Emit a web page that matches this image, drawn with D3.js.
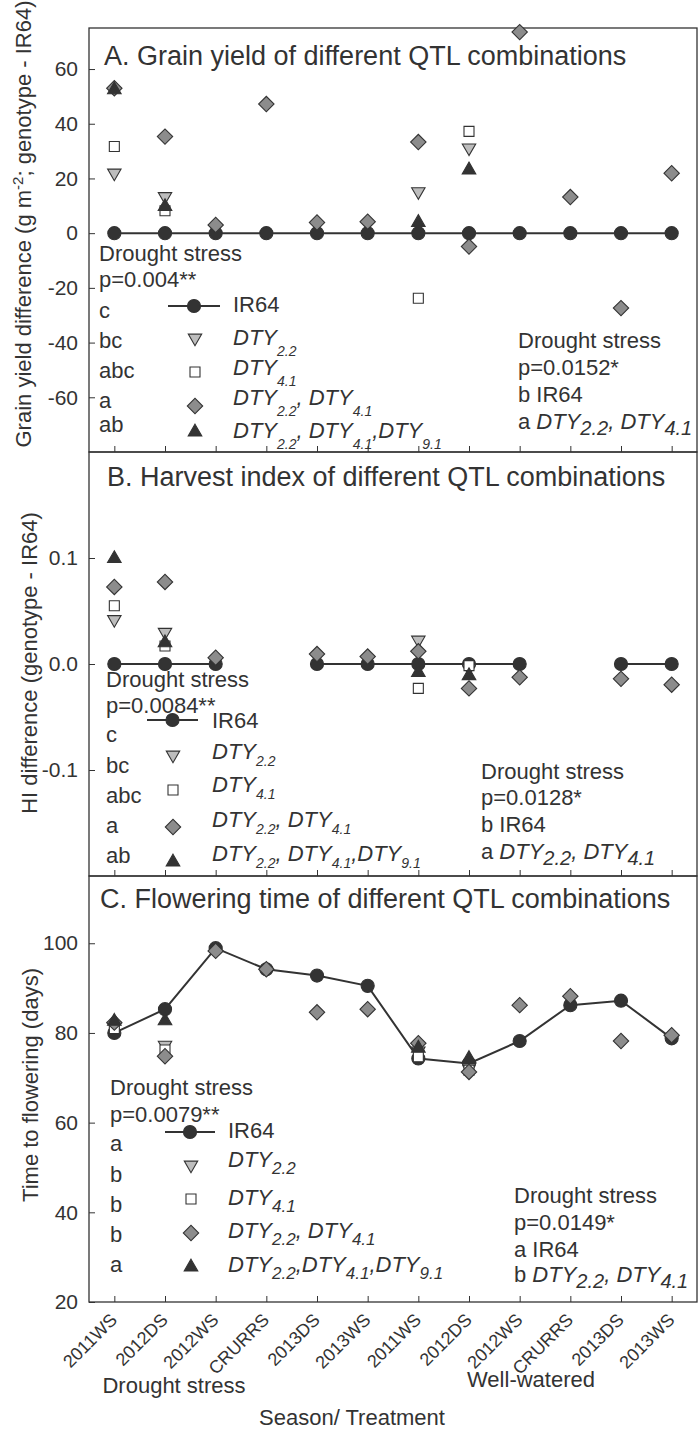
<!DOCTYPE html>
<html>
<head>
<meta charset="utf-8">
<script src="https://cdn.jsdelivr.net/npm/d3@7"></script>
<style>
body { margin: 0; background: #fff; }
svg text { font-family: "Liberation Sans", Arial, sans-serif; fill: #333; }
</style>
</head>
<body>
<svg id="chart" width="700" height="1431"></svg>
<script>
// seasons (first six drought stress, last six well-watered)
var seasons = ["2011WS", "2012DS", "2012WS", "CRURRS", "2013DS", "2013WS",
               "2011WS", "2012DS", "2012WS", "CRURRS", "2013DS", "2013WS"];

// A. grain yield difference (g m-2)
var gyIR64      = [0, 0, 0, 0, 0, 0, 0, 0, 0, 0, 0, 0];
var gyDTY22     = [22, 13.4, null, null, null, null, 15.2, 31.2, null, null, null, null];
var gyDTY41     = [31.7, 8.2, null, null, null, null, -23.8, 37.2, null, null, null, null];
var gyDTY22_41  = [53, 35.3, 3, 47.2, 3.9, 4.2, 33.3, -4.9, 73.5, 13.2, -27.4, 21.9];
var gyDTY22_41_91 = [52.4, 9.7, null, null, null, null, 3.9, 23.1, null, null, null, null];
var gyTicks = [-60, -40, -20, 0, 20, 40, 60];

// B. harvest index difference
var hiIR64      = [0, 0, 0, null, 0, 0, 0, 0, 0, null, 0, 0];
var hiDTY22     = [0.042, 0.030, null, null, null, null, 0.0226, -0.004, null, null, null, null];
var hiDTY41     = [0.055, 0.017, null, null, null, null, -0.023, -0.0015, null, null, null, null];
var hiDTY22_41  = [0.0727, 0.0774, 0.006, null, 0.0094, 0.007, 0.012, -0.023, -0.0126, null, -0.014, -0.0195];
var hiDTY22_41_91 = [0.0994, 0.020, null, null, null, null, -0.008, -0.011, null, null, null, null];
var hiTicks = [-0.1, 0, 0.1];

// C. time to flowering (days)
var ftIR64      = [80, 85.3, 98.9, 94.2, 92.8, 90.5, 74.3, 73.2, 78.2, 86.2, 87.2, 78.8];
var ftDTY22     = [81.5, 77.3, null, null, null, null, 76, 72.3, null, null, null, null];
var ftDTY41     = [81, 76.2, null, null, null, null, 74.7, 71.7, null, null, null, null];
var ftDTY22_41  = [82.3, 74.8, 98.3, 94.2, 84.6, 85.3, 77.7, 71.3, 86.2, 88.2, 78.2, 79.5];
var ftDTY22_41_91 = [82.6, 82.7, null, null, null, null, 76.6, 74.3, null, null, null, null];
var ftTicks = [20, 40, 60, 80, 100];

// text bits: [text, style] with n = normal, i = italic, s = italic subscript
var legendA = [
  [["IR64", "n"]],
  [["DTY", "i"], ["2.2", "s"]],
  [["DTY", "i"], ["4.1", "s"]],
  [["DTY", "i"], ["2.2", "s"], [", DTY", "i"], ["4.1", "s"]],
  [["DTY", "i"], ["2.2", "s"], [", DTY", "i"], ["4.1", "s"], [",DTY", "i"], ["9.1", "s"]]
];
var legendC = [
  [["IR64", "n"]],
  [["DTY", "i"], ["2.2", "s"]],
  [["DTY", "i"], ["4.1", "s"]],
  [["DTY", "i"], ["2.2", "s"], [", DTY", "i"], ["4.1", "s"]],
  [["DTY", "i"], ["2.2", "s"], [",DTY", "i"], ["4.1", "s"], [",DTY", "i"], ["9.1", "s"]]
];
var lettersA = ["c", "bc", "abc", "a", "ab"];
var lettersB = ["c", "bc", "abc", "a", "ab"];
var lettersC = ["a", "b", "b", "b", "a"];
var pA = "p=0.004**", pB = "p=0.0084**", pC = "p=0.0079**";
var notesA = [[["Drought stress", "n"]], [["p=0.0152*", "n"]], [["b IR64", "n"]],
  [["a ", "n"], ["DTY", "i"], ["2.2", "s"], [", DTY", "i"], ["4.1", "s"]]];
var notesB = [[["Drought stress", "n"]], [["p=0.0128*", "n"]], [["b IR64", "n"]],
  [["a ", "n"], ["DTY", "i"], ["2.2", "s"], [", DTY", "i"], ["4.1", "s"]]];
var notesC = [[["Drought stress", "n"]], [["p=0.0149*", "n"]], [["a IR64", "n"]],
  [["b ", "n"], ["DTY", "i"], ["2.2", "s"], [", DTY", "i"], ["4.1", "s"]]];

var ink = "#333";
var left = 89, right = 697;
var svg = d3.select("#chart");

var x = d3.scalePoint().domain(d3.range(seasons.length)).range([left, right]).padding(0.5);

var markers = [
  { path: d3.symbol(d3.symbolCircle, 135)(), rot: 0, fill: ink },
  { path: d3.symbol(d3.symbolTriangle, 78)(), rot: 180, fill: "#bdbdbd" },
  { path: d3.symbol(d3.symbolSquare, 100)(), rot: 0, fill: "#fff" },
  { path: d3.symbol(d3.symbolSquare, 118)(), rot: 45, fill: "#8c8c8c" },
  { path: d3.symbol(d3.symbolTriangle, 80)(), rot: 0, fill: ink }
];

function rich(g, px, py, parts, size, sub) {
  var t = g.append("text").attr("x", px).attr("y", py).style("font-size", size + "px");
  var low = false;
  parts.forEach(function(p) {
    var s = t.append("tspan").text(p[0]);
    if (p[1] != "n") s.style("font-style", "italic");
    if (p[1] == "s") {
      s.style("font-size", sub.size + "px").attr("dy", sub.dy);
      low = true;
    } else if (low) {
      s.attr("dy", -sub.dy);
      low = false;
    }
  });
  return t;
}

var panels = [
  { top: 28, bottom: 452, domain: [-80, 75], ticks: gyTicks, fmt: function(d) { return String(d); },
    series: [gyIR64, gyDTY22, gyDTY41, gyDTY22_41, gyDTY22_41_91],
    title: "A. Grain yield of different QTL combinations", titleX: 104, titleY: 65,
    noteX: 99, noteY: [261, 287], p: pA, letters: lettersA, letY: [318, 348, 378, 408, 432],
    legend: legendA, symX: 195, lineX: [168, 220], textX: 233,
    symY: [306, 338, 372, 406, 432], textY: [312, 345, 375, 405, 438], sub: { size: 14, dy: 11 },
    notes: notesA, rightX: 518, rightY: [348, 375, 402, 429] },
  { top: 452, bottom: 876, domain: [-0.2, 0.2], ticks: hiTicks, fmt: d3.format(".1f"),
    series: [hiIR64, hiDTY22, hiDTY41, hiDTY22_41, hiDTY22_41_91],
    title: "B. Harvest index of different QTL combinations", titleX: 107, titleY: 486,
    noteX: 106, noteY: [687, 713], p: pB, letters: lettersB, letY: [742, 773, 803, 833, 863],
    legend: legendA, symX: 173, lineX: [147, 198], textX: 212,
    symY: [720, 755, 790, 827, 862], textY: [728, 759, 792, 827, 861], sub: { size: 14, dy: 7 },
    notes: notesB, rightX: 481, rightY: [779, 805, 832, 859] },
  { top: 876, bottom: 1302, domain: [20, 115], ticks: ftTicks, fmt: function(d) { return String(d); },
    series: [ftIR64, ftDTY22, ftDTY41, ftDTY22_41, ftDTY22_41_91],
    title: "C. Flowering time of different QTL combinations", titleX: 100, titleY: 908,
    noteX: 110, noteY: [1095, 1122], p: pC, letters: lettersC, letY: [1151, 1182, 1212, 1242, 1272],
    legend: legendC, symX: 191, lineX: [165, 215], textX: 228,
    symY: [1132, 1165, 1199, 1233, 1267], textY: [1138, 1167, 1205, 1238, 1272], sub: { size: 17, dy: 7 },
    notes: notesC, rightX: 514, rightY: [1203, 1230, 1257, 1282] }
];

panels.forEach(function(P, pi) {
  var g = svg.append("g");
  var y = d3.scaleLinear().domain(P.domain).range([P.bottom, P.top]);

  // frame
  g.append("rect").attr("x", left).attr("y", P.top)
    .attr("width", right - left).attr("height", P.bottom - P.top)
    .attr("fill", "none").attr("stroke", ink).attr("stroke-width", 1.3);

  var ya = g.append("g").attr("transform", "translate(" + left + ",0)")
    .call(d3.axisLeft(y).tickValues(P.ticks).tickSize(-6).tickPadding(11)
      .tickFormat(function(d) { return P.fmt(d).replace("\u2212", "-"); }));
  ya.select(".domain").remove();
  ya.selectAll("line").attr("stroke", ink);
  ya.selectAll("text").attr("fill", ink).style("font-size", "21px")
    .style("font-family", "'Liberation Sans', Arial, sans-serif");

  var xa = g.append("g").attr("transform", "translate(0," + P.bottom + ")")
    .call(d3.axisBottom(x).tickSize(-6).tickFormat(""));
  xa.select(".domain").remove();
  xa.selectAll("line").attr("stroke", ink);

  // IR64 line
  var line = d3.line().defined(function(d) { return d != null; })
    .x(function(d, i) { return x(i); }).y(function(d) { return y(d); });
  g.append("path").datum(P.series[0]).attr("d", line)
    .attr("fill", "none").attr("stroke", ink).attr("stroke-width", 2);

  P.series.forEach(function(vals, si) {
    var m = markers[si];
    g.selectAll(".m" + si).data(vals.map(function(v, i) { return { v: v, i: i }; })
        .filter(function(d) { return d.v != null; }))
      .enter().append("path")
      .attr("class", "m" + si)
      .attr("d", m.path)
      .attr("transform", function(d) { return "translate(" + x(d.i) + "," + y(d.v) + ") rotate(" + m.rot + ")"; })
      .attr("fill", m.fill).attr("stroke", ink).attr("stroke-width", 1.1);
  });

  // title
  g.append("text").attr("x", P.titleX).attr("y", P.titleY).style("font-size", "27px").text(P.title);

  // left notes and letters
  g.append("text").attr("x", P.noteX).attr("y", P.noteY[0]).style("font-size", "22px").text("Drought stress");
  g.append("text").attr("x", P.noteX).attr("y", P.noteY[1]).style("font-size", "22px").text(P.p);
  P.letters.forEach(function(l, k) {
    g.append("text").attr("x", P.noteX).attr("y", P.letY[k]).style("font-size", "22px").text(l);
  });

  // legend
  g.append("line").attr("x1", P.lineX[0]).attr("x2", P.lineX[1])
    .attr("y1", P.symY[0]).attr("y2", P.symY[0]).attr("stroke", ink).attr("stroke-width", 2);
  P.legend.forEach(function(parts, k) {
    var m = markers[k];
    g.append("path").attr("d", m.path)
      .attr("transform", "translate(" + (k == 0 ? (P.lineX[0] + P.lineX[1]) / 2 : P.symX) + "," + P.symY[k] + ") rotate(" + m.rot + ")")
      .attr("fill", m.fill).attr("stroke", ink).attr("stroke-width", 1.1);
    rich(g, P.textX, P.textY[k], parts, 22, P.sub);
  });

  // right notes
  P.notes.forEach(function(parts, k) {
    rich(g, P.rightX, P.rightY[k], parts, 22, { size: 20, dy: 6 });
  });
});

// x tick labels for the bottom panel
svg.append("g").selectAll("text").data(seasons).enter().append("text")
  .attr("text-anchor", "end")
  .attr("transform", function(d, i) { return "translate(" + (x(i) + 4) + ",1321) rotate(-45)"; })
  .style("font-size", "18px")
  .text(function(d) { return d; });

svg.append("text").attr("x", 174).attr("y", 1393).attr("text-anchor", "middle")
  .style("font-size", "22px").text("Drought stress");
svg.append("text").attr("x", 531).attr("y", 1387).attr("text-anchor", "middle")
  .style("font-size", "22px").text("Well-watered");
svg.append("text").attr("x", 352).attr("y", 1425).attr("text-anchor", "middle")
  .style("font-size", "22px").text("Season/ Treatment");

// y axis titles
var ta = svg.append("text").attr("transform", "translate(31,224) rotate(-90)")
  .attr("text-anchor", "middle").style("font-size", "22px");
ta.append("tspan").text("Grain yield difference (g m");
ta.append("tspan").text("-2").style("font-size", "15px").attr("dy", -8);
ta.append("tspan").text("; genotype - IR64)").attr("dy", 8);

svg.append("text").attr("transform", "translate(37,663) rotate(-90)")
  .attr("text-anchor", "middle").style("font-size", "22px").text("HI difference (genotype - IR64)");
svg.append("text").attr("transform", "translate(38,1085) rotate(-90)")
  .attr("text-anchor", "middle").style("font-size", "22px").text("Time to flowering (days)");
</script>
</body>
</html>
